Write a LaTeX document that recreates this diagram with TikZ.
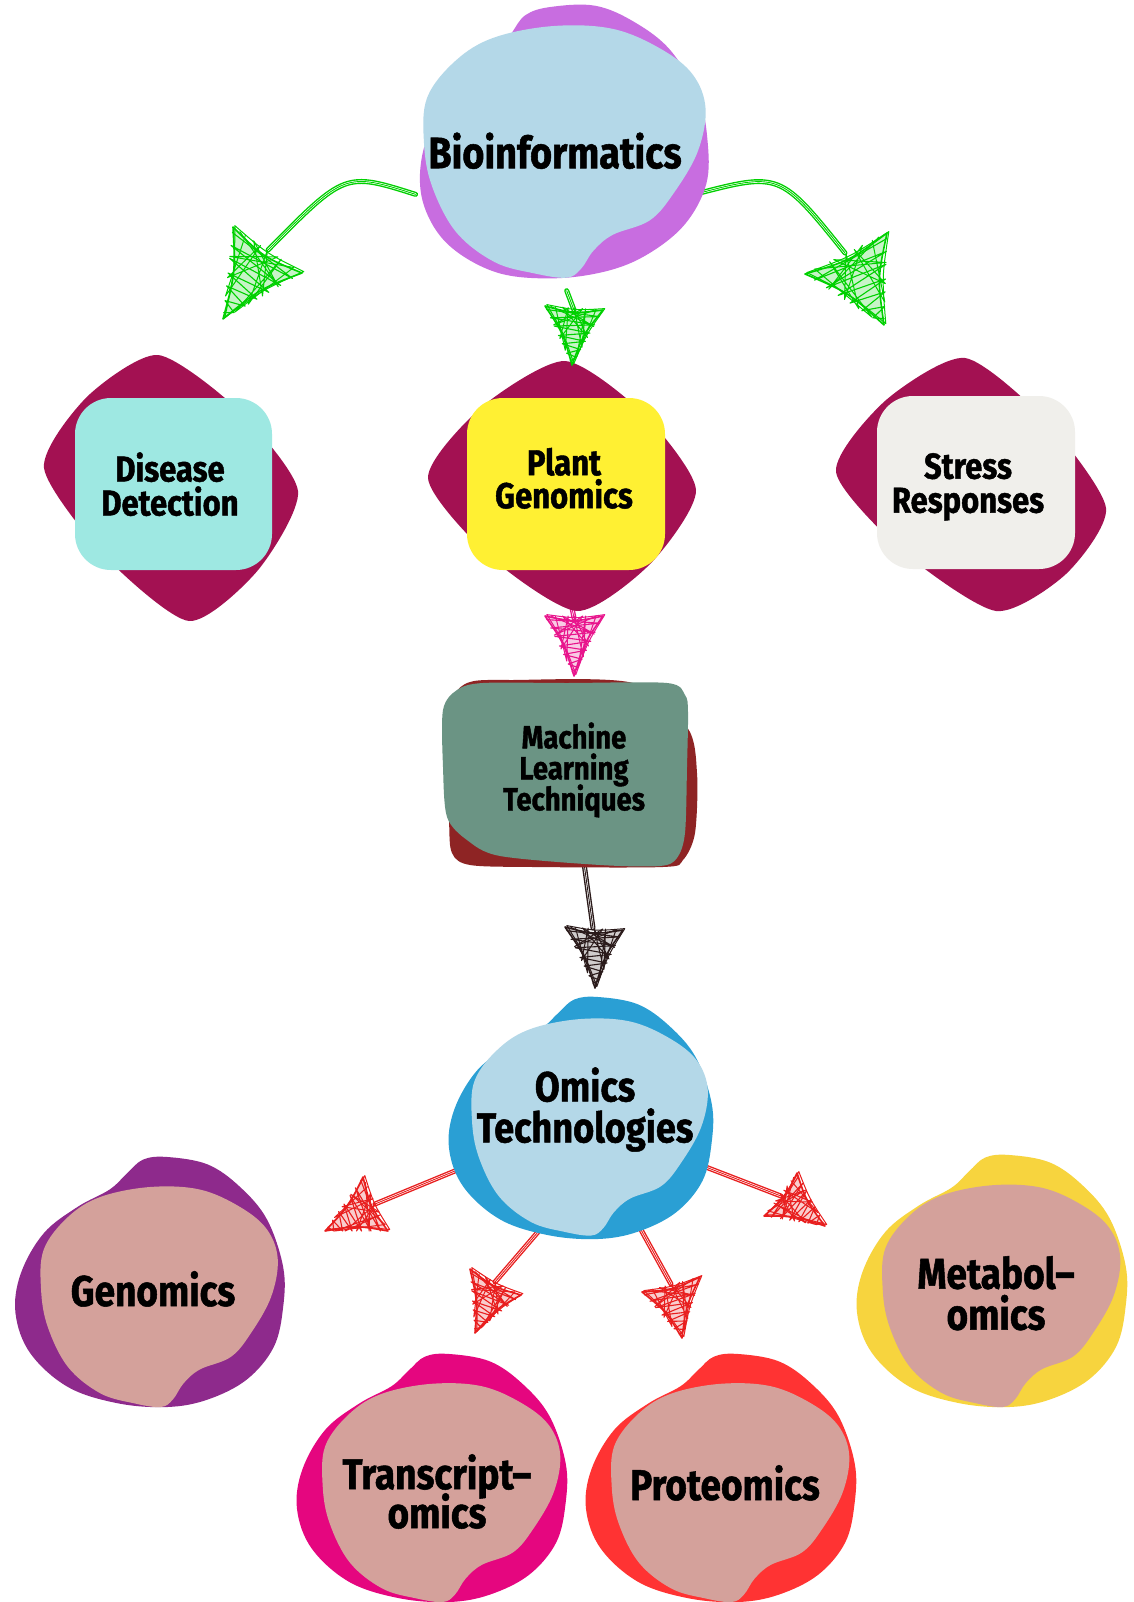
\documentclass[tikz,border=0pt]{standalone}
\usepackage{fontspec}
\newfontfamily\hv{Fira Sans}[BoldFeatures={FakeStretch=0.86, FakeBold=1.2}]
\usetikzlibrary{calc,shapes.geometric}
\pgfdeclarelayer{paper}\pgfdeclarelayer{arr}\pgfdeclarelayer{shp}
\pgfsetlayers{paper,arr,shp,main}
\definecolor{bioP}{HTML}{C86DE0}
\definecolor{lblue}{HTML}{B4D8E8}
\definecolor{grn}{HTML}{00D000}
\definecolor{crim}{HTML}{A31152}
\definecolor{cyanb}{HTML}{9EE8E2}
\definecolor{yel}{HTML}{FFF033}
\definecolor{offw}{HTML}{F0EFEB}
\definecolor{pinkA}{HTML}{E8148C}
\definecolor{mlred}{HTML}{8E2424}
\definecolor{mlgrn}{HTML}{6B9484}
\definecolor{arrblk}{HTML}{2A1A1A}
\definecolor{omb}{HTML}{2A9FD4}
\definecolor{redA}{HTML}{E81E1E}
\definecolor{genP}{HTML}{8E2A8C}
\definecolor{rose}{HTML}{D4A19B}
\definecolor{traM}{HTML}{E5067F}
\definecolor{proR}{HTML}{FF3333}
\definecolor{metY}{HTML}{F7D43E}
\newcommand{\setfs}[2]{\fontsize{#1}{#2}\selectfont}
\newcommand{\zw}[1]{\makebox[0pt]{\parbox{500pt}{\centering\lineskiplimit=-100pt\strut #1\strut}}}
\tikzset{
  lbl/.style={shape=ellipse, inner sep=0pt, align=center, text=black},
}
% sketchy shaft: colour, path
\newcommand{\shaftd}[2]{%
  \draw[#1, line width=1.4pt, double=white, double distance=2.2pt, line cap=round] #2;
  \draw[#1, line width=0.9pt, line cap=round] #2;}
% blob: outer centre, outer xs, ys, outer colour, inner centre, inner xs, ys, inner colour
\newcommand{\myblob}[8]{%
  \begin{scope}[shift={#1}, xscale=#2, yscale=#3]
    \fill[#4] plot[smooth cycle, tension=0.6] coordinates {(-0.17,-0.87) (-0.05,-0.98) (0.13,-1.0) (0.43,-0.94) (0.67,-0.76) (0.87,-0.50) (0.99,-0.12) (0.99,0.20) (0.92,0.52) (0.72,0.78) (0.43,0.94) (0.13,1.0) (-0.24,0.97) (-0.61,0.84) (-0.89,0.57) (-1.0,0.25) (-0.96,-0.07) (-0.79,-0.39) (-0.54,-0.60) (-0.30,-0.74)};
  \end{scope}
  \begin{scope}[shift={#5}, xscale=#6, yscale=#7]
    \fill[#8] plot[smooth cycle, tension=0.6] coordinates {(-0.79,-0.26) (-0.61,-0.52) (-0.37,-0.68) (0.0,-0.76) (0.37,-0.74) (0.67,-0.60) (0.87,-0.42) (0.95,-0.18) (0.90,0.12) (0.75,0.41) (0.60,0.60) (0.37,0.70) (0.25,0.81) (0.17,0.94) (0.08,1.0) (-0.12,0.97) (-0.37,0.89) (-0.61,0.68) (-0.76,0.36) (-0.81,0.06)};
  \end{scope}}
% bulged rounded diamond: top, right, bottom, left
\newcommand{\crimshape}[4]{%
  \coordinate (cT) at #1; \coordinate (cR) at #2; \coordinate (cB) at #3; \coordinate (cL) at #4;
  \coordinate (cM1) at ($(cT)!0.5!(cB)$); \coordinate (cM2) at ($(cL)!0.5!(cR)$);
  \coordinate (cC) at ($(cM1)!0.5!(cM2)$);
  \fill[crim] plot[smooth cycle, tension=0.42] coordinates {
    (cT) ($(cT)!0.5!(cR)!-0.2!(cC)$)
    (cR) ($(cR)!0.5!(cB)!-0.2!(cC)$)
    (cB) ($(cB)!0.5!(cL)!-0.2!(cC)$)
    (cL) ($(cL)!0.5!(cT)!-0.2!(cC)$)};}
% scribbled arrow head: colour, barb A, barb B, tip
\newcommand{\scribhead}[4]{%
  \coordinate (hA) at #2; \coordinate (hB) at #3; \coordinate (hC) at #4;
  \coordinate (hG) at ($(hA)!0.5!(hB)!0.3333!(hC)$);
  \begin{scope}[draw=#1, line join=round, line cap=round]
    \fill[#1, opacity=0.22] (hA) .. controls ($(hA)!0.5!(hB)!0.3!(hG)$) .. (hB) .. controls ($(hB)!0.5!(hC)!0.3!(hG)$) .. (hC) .. controls ($(hC)!0.5!(hA)!0.3!(hG)$) .. (hA) -- cycle;
    \draw[line width=1.6pt] (hA) .. controls ($(hA)!0.5!(hB)!0.3!(hG)$) .. (hB) .. controls ($(hB)!0.5!(hC)!0.3!(hG)$) .. (hC) .. controls ($(hC)!0.5!(hA)!0.3!(hG)$) .. (hA) -- cycle;
    \draw[line width=1pt, transform canvas={shift={(1.8pt,1.4pt)}}] (hA) .. controls ($(hA)!0.5!(hB)!0.2!(hG)$) .. (hB) .. controls ($(hB)!0.5!(hC)!0.2!(hG)$) .. (hC) .. controls ($(hC)!0.5!(hA)!0.2!(hG)$) .. (hA) -- cycle;
    \draw[line width=1.1pt] ($(hA)!0.06!(hC)$) -- ($(hB)!0.12!(hC)$) -- ($(hA)!0.2!(hC)$) -- ($(hB)!0.27!(hC)$) -- ($(hA)!0.34!(hC)$) -- ($(hB)!0.42!(hC)$) -- ($(hA)!0.5!(hC)$) -- ($(hB)!0.57!(hC)$) -- ($(hA)!0.64!(hC)$) -- ($(hB)!0.72!(hC)$) -- ($(hA)!0.8!(hC)$) -- ($(hB)!0.86!(hC)$) -- ($(hA)!0.93!(hC)$);
    \draw[line width=1pt] ($(hA)!0.1!(hB)$) -- ($(hC)!0.7!(hB)$) -- ($(hA)!0.3!(hB)$) -- ($(hC)!0.5!(hB)$) -- ($(hA)!0.5!(hB)$) -- ($(hC)!0.32!(hB)$) -- ($(hA)!0.7!(hB)$) -- ($(hC)!0.15!(hB)$) -- ($(hA)!0.88!(hB)$);
    \draw[line width=1pt] ($(hB)!0.12!(hA)$) -- ($(hC)!0.68!(hA)$) -- ($(hB)!0.35!(hA)$) -- ($(hC)!0.45!(hA)$) -- ($(hB)!0.6!(hA)$) -- ($(hC)!0.25!(hA)$) -- ($(hB)!0.82!(hA)$);
  \end{scope}}
\begin{document}
\begin{tikzpicture}[x=1pt,y=-1pt]
\begin{pgfonlayer}{paper}
  \fill[white] (0,0) rectangle (1133,1602);
\end{pgfonlayer}
\useasboundingbox (0,0) rectangle (1133,1602);

% ---------- nodes (text) ----------
\node[lbl, minimum width=290pt, minimum height=268pt, font=\hv\bfseries\setfs{44}{44}] (bio) at (555,157) {\zw{Bioinformatics}};
\node[lbl, minimum width=196pt, minimum height=170pt, font=\hv\bfseries\setfs{36}{34}] (dis) at (170,489) {\zw{Disease\\Detection}};
\node[lbl, minimum width=196pt, minimum height=170pt, font=\hv\bfseries\setfs{36}{33}] (pg) at (564,483) {\zw{Plant\\Genomics}};
\node[lbl, minimum width=196pt, minimum height=170pt, font=\hv\bfseries\setfs{36}{34}] (sr) at (968,488) {\zw{Stress\\Responses}};
\node[lbl, minimum width=244pt, minimum height=184pt, font=\hv\bfseries\setfs{32}{31}] (ml) at (574,771) {\zw{Machine\\Learning\\Techniques}};
\node[lbl, minimum width=262pt, minimum height=242pt, font=\hv\bfseries\setfs{42}{41}] (om) at (585,1111) {\zw{Omics\\Technologies}};
\node[lbl, minimum width=268pt, minimum height=250pt, font=\hv\bfseries\setfs{43}{43}] (gen) at (153,1295) {\zw{Genomics}};
\node[lbl, minimum width=270pt, minimum height=248pt, font=\hv\bfseries\setfs{43}{39}] (tra) at (437,1497) {\zw{Transcript–\\omics}};
\node[lbl, minimum width=270pt, minimum height=248pt, font=\hv\bfseries\setfs{43}{43}] (pro) at (725,1489) {\zw{Proteomics}};
\node[lbl, minimum width=270pt, minimum height=252pt, font=\hv\bfseries\setfs{43}{41}] (met) at (996,1299) {\zw{Metabol–\\omics}};

% ---------- shapes ----------
\begin{pgfonlayer}{shp}
  \begin{scope}[rotate around={12:(560,143)}]
    \myblob{(560.2,143)}{146.2}{135}{bioP}{(553.6,134.7)}{0.001}{0.001}{bioP}
  \end{scope}
  \myblob{(560.2,143)}{0.001}{0.001}{bioP}{(553.6,134.7)}{160}{143}{lblue}
  % second row
  \crimshape{(158,355)}{(298,491)}{(189,621)}{(44,468)}
  \fill[cyanb, rounded corners=36pt] (75,398) rectangle (272,570);
  \crimshape{(565,361)}{(696,490)}{(577,611)}{(428,478)}
  \fill[yel, rounded corners=36pt] (467,398) rectangle (665,570);
  \crimshape{(965,358)}{(1106,508)}{(996,611)}{(836,472)}
  \fill[offw, rounded corners=36pt] (877,396) rectangle (1075,569);
  % machine learning
  \fill[mlred] plot[smooth cycle, tension=0.5] coordinates {(453,697) (470,682) (510,680) (633,683) (687,727) (697,773) (695,833) (683,860) (663,867) (533,867) (470,865) (452,853) (449,820) (447,733)};
  \fill[mlgrn] plot[smooth cycle, tension=0.5] coordinates {(443,710) (457,690) (483,683) (567,683) (667,683) (685,695) (688,712) (687,767) (685,833) (677,858) (660,866) (600,865) (500,856) (467,840) (447,817) (443,767)};
  % omics
  \myblob{(581,1118)}{132}{121}{omb}{(580.5,1112.5)}{134}{123}{lblue}
  \myblob{(150,1282)}{134.5}{125}{genP}{(150,1282)}{134.5}{125}{rose}
  \myblob{(432,1478)}{135}{124}{traM}{(432,1478)}{135}{124}{rose}
  \myblob{(721,1478)}{135}{124}{proR}{(721,1478)}{135}{124}{rose}
  \myblob{(992,1281)}{135}{126}{metY}{(992,1281)}{135}{126}{rose}
\end{pgfonlayer}

% ---------- connectors ----------
\coordinate (gLend) at (268,250);
\coordinate (gMend) at (574,310);
\coordinate (gRend) at (845,253);
\coordinate (pkend) at (574,618);
\coordinate (bkend) at (593,928);
\coordinate (r1end) at (375,1204);
\coordinate (r2end) at (495,1282);
\coordinate (r3end) at (671,1284);
\coordinate (r4end) at (781,1196);
\begin{pgfonlayer}{arr}
  \shaftd{grn}{(bio.195) .. controls (345,172) .. (gLend)}
  \shaftd{grn}{(bio.275) -- (gMend)}
  \shaftd{grn}{(bio.345) .. controls (780,172) .. (gRend)}
  \shaftd{pinkA}{(pg.south) -- (pkend)}
  \shaftd{arrblk}{($(ml.south)+(10,0)$) -- (bkend)}
  \shaftd{redA}{(om.205) -- (r1end)}
  \shaftd{redA}{(om.250) -- (r2end)}
  \shaftd{redA}{(om.295) -- (r3end)}
  \shaftd{redA}{(om.335) -- (r4end)}
\end{pgfonlayer}
\scribhead{grn}{(233,227)}{(302,273)}{(223,319)}
\scribhead{grn}{(545,306)}{(603,310)}{(572,365)}
\scribhead{grn}{(887,233)}{(805,274)}{(884,325)}
\scribhead{pinkA}{(545,616)}{(603,616)}{(574,676)}
\scribhead{arrblk}{(565,927)}{(623,930)}{(595,988)}
\scribhead{redA}{(363,1177)}{(388,1231)}{(325,1231)}
\scribhead{redA}{(470,1269)}{(521,1295)}{(475,1333)}
\scribhead{redA}{(642,1292)}{(700,1277)}{(682,1338)}
\scribhead{redA}{(797,1173)}{(764,1216)}{(825,1226)}
\end{tikzpicture}
\end{document}
